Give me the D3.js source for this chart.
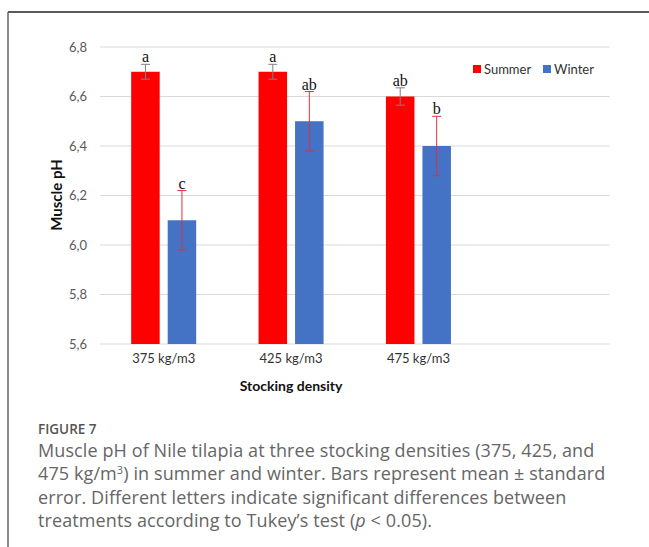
<!DOCTYPE html>
<html>
<head>
<meta charset="utf-8">
<script src="https://cdn.jsdelivr.net/npm/d3@7"></script>
<style>
  body { margin: 0; background: #fff; }
  svg { display: block; }
</style>
</head>
<body>
<svg width="649" height="547"></svg>
<script>
const categories = ['375 kg/m3', '425 kg/m3', '475 kg/m3'];
const seriesNames = ['Summer', 'Winter'];
const summerValues = [6.7, 6.7, 6.6];
const winterValues = [6.1, 6.5, 6.4];
const summerErrors = [0.03, 0.03, 0.035];
const winterErrors = [0.12, 0.12, 0.12];
const summerLetters = ['a', 'a', 'ab'];
const winterLetters = ['c', 'ab', 'b'];
const yTicks = [5.6, 5.8, 6.0, 6.2, 6.4, 6.6, 6.8];

const colors = { Summer: '#ff0000', Winter: '#4472c4' };
const errColors = { Summer: '#808080', Winter: '#e0303a' };

const rows = [];
categories.forEach((c, i) => {
    rows.push({ cat: c, series: 'Summer', value: summerValues[i], err: summerErrors[i], letter: summerLetters[i] });
    rows.push({ cat: c, series: 'Winter', value: winterValues[i], err: winterErrors[i], letter: winterLetters[i] });
});

const svg = d3.select('svg');
const chartFont = 'Lato, "Open Sans", sans-serif';

// plot area (Excel leaves room for a 4th empty slot)
const plotL = 100, plotR = 609.5, plotT = 47, plotB = 344;
const step = (plotR - plotL) / 4;
const groupW = 65;

const x = d3.scaleBand()
    .domain(categories)
    .range([plotL, plotL + step * categories.length])
    .paddingInner(1 - groupW / step)
    .paddingOuter((1 - groupW / step) / 2);

const xInner = d3.scaleBand()
    .domain(seriesNames)
    .range([0, x.bandwidth()])
    .paddingInner(8 / 36.5)
    .paddingOuter(0);

const y = d3.scaleLinear()
    .domain([5.6, 6.8])
    .range([plotB, plotT]);

// frame
svg.append('line').attr('x1', 8).attr('x2', 649).attr('y1', 12).attr('y2', 12)
    .attr('stroke', '#222').attr('stroke-width', 1.5);
svg.append('line').attr('x1', 8).attr('x2', 8).attr('y1', 12).attr('y2', 547)
    .attr('stroke', '#666').attr('stroke-width', 1.5);

// gridlines
svg.append('g').selectAll('line')
    .data(yTicks)
    .enter().append('line')
    .attr('x1', plotL).attr('x2', plotR)
    .attr('y1', d => y(d)).attr('y2', d => y(d))
    .attr('stroke', '#d9d9d9').attr('stroke-width', 1);

// y axis labels
const yAxis = d3.axisLeft(y).tickValues(yTicks).tickSize(0).tickPadding(0)
    .tickFormat(d => d3.format('.1f')(d).replace('.', ','));
const ya = svg.append('g').attr('transform', `translate(${plotL - 13},0)`).call(yAxis);
ya.select('.domain').remove();
ya.selectAll('text').attr('fill', '#595959').style('font', `13px ${chartFont}`);

// x axis labels
const xAxis = d3.axisBottom(x).tickSize(0).tickPadding(0);
const xa = svg.append('g').attr('transform', `translate(0,${plotB + 10})`).call(xAxis);
xa.select('.domain').remove();
xa.selectAll('text').attr('fill', '#333').style('font', `13px ${chartFont}`);

// bars
const g = svg.append('g');
g.selectAll('.bar')
    .data(rows)
    .enter().append('rect')
    .attr('class', 'bar')
    .attr('x', d => x(d.cat) + xInner(d.series))
    .attr('y', d => y(d.value))
    .attr('width', xInner.bandwidth())
    .attr('height', d => y(5.6) - y(d.value))
    .attr('fill', d => colors[d.series]);

// error bars
const eb = g.selectAll('.err')
    .data(rows)
    .enter().append('g')
    .attr('class', 'err')
    .attr('stroke', d => errColors[d.series])
    .attr('stroke-width', 1);
const cx = d => x(d.cat) + xInner(d.series) + xInner.bandwidth() / 2;
eb.append('line')
    .attr('x1', cx).attr('x2', cx)
    .attr('y1', d => y(d.value + d.err)).attr('y2', d => y(d.value - d.err));
eb.append('line')
    .attr('x1', d => cx(d) - 4.5).attr('x2', d => cx(d) + 4.5)
    .attr('y1', d => y(d.value + d.err)).attr('y2', d => y(d.value + d.err));
eb.append('line')
    .attr('x1', d => cx(d) - 4.5).attr('x2', d => cx(d) + 4.5)
    .attr('y1', d => y(d.value - d.err)).attr('y2', d => y(d.value - d.err));

// significance letters
g.selectAll('.letter')
    .data(rows)
    .enter().append('text')
    .attr('class', 'letter')
    .attr('x', cx)
    .attr('y', d => y(d.value + d.err) - 2)
    .attr('text-anchor', 'middle')
    .attr('fill', '#111')
    .style('font', '16px "Liberation Serif", serif')
    .text(d => d.letter);

// axis titles
svg.append('text')
    .attr('transform', 'translate(62,195) rotate(-90)')
    .attr('text-anchor', 'middle')
    .attr('fill', '#111')
    .style('font', `bold 15px ${chartFont}`)
    .text('Muscle pH');
svg.append('text')
    .attr('x', x('425 kg/m3') + x.bandwidth() / 2).attr('y', 391)
    .attr('text-anchor', 'middle')
    .attr('fill', '#111')
    .style('font', `bold 14px ${chartFont}`)
    .text('Stocking density');

// legend
const legendX = [473, 543];
const lg = svg.append('g').selectAll('g')
    .data(seriesNames)
    .enter().append('g')
    .attr('transform', (d, i) => `translate(${legendX[i]},65)`);
lg.append('rect').attr('width', 8).attr('height', 8).attr('fill', d => colors[d]);
lg.append('text').attr('x', 11).attr('y', 8.5)
    .attr('fill', '#333')
    .style('font', `13px ${chartFont}`)
    .text(d => d);

// caption
svg.append('text')
    .attr('x', 38).attr('y', 434)
    .attr('fill', '#555')
    .style('font', '600 13.5px "Open Sans", sans-serif')
    .text('FIGURE 7');

const cap = svg.append('text')
    .attr('fill', '#666')
    .style('font', '18px "Open Sans", sans-serif')
    .style('letter-spacing', '0.1px');
cap.append('tspan').attr('x', 38).attr('y', 457)
    .text('Muscle pH of Nile tilapia at three stocking densities (375, 425, and');
const l2 = cap.append('tspan').attr('x', 38).attr('y', 480);
l2.append('tspan').text('475 kg/m');
l2.append('tspan').attr('dy', -6).style('font-size', '11px').text('3');
l2.append('tspan').attr('dy', 6).text(') in summer and winter. Bars represent mean \u00b1 standard');
cap.append('tspan').attr('x', 38).attr('y', 503.5)
    .text('error. Different letters indicate significant differences between');
const l4 = cap.append('tspan').attr('x', 38).attr('y', 526.5);
l4.append('tspan').text('treatments according to Tukey\u2019s test (');
l4.append('tspan').style('font-style', 'italic').text('p');
l4.append('tspan').text(' < 0.05).');
</script>
</body>
</html>
